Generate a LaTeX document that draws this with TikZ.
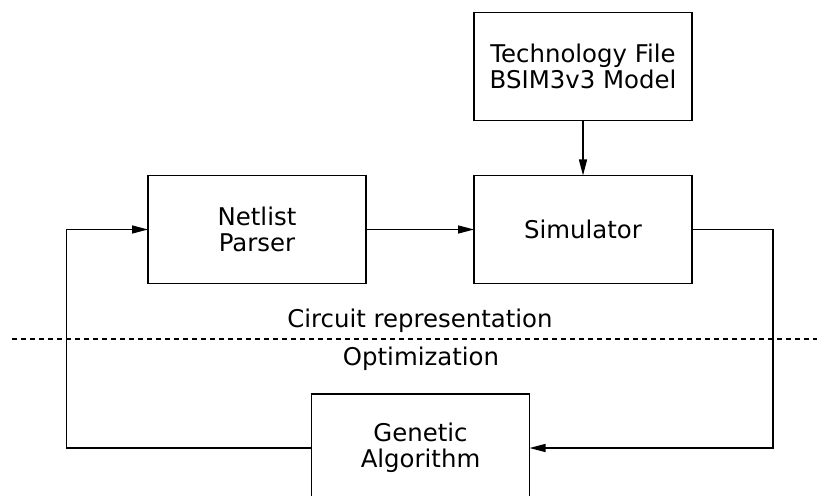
\documentclass[tikz,border=0pt]{standalone}
\usepackage{fontspec}
\setmainfont{DejaVu Sans}
\usetikzlibrary{arrows.meta, positioning}

\begin{document}
\begin{tikzpicture}[
			x=0.5pt, y=-0.5pt,
			font=\fontsize{12.2}{13}\selectfont,
			block/.style={draw, line width=0.7pt, align=center, minimum width=109pt, minimum height=54pt, inner sep=0pt, outer sep=0pt},
			arrow/.style={-{Triangle[length=8pt, width=4pt]}, line width=0.7pt},
			sepline/.style={line width=0.6pt, dash pattern=on 2.5pt off 2pt}
			]
			\useasboundingbox (0,0) rectangle (817,496);
			
			% --- circuit side ---
			\node[block] (parser) at (257,229.5) {Netlist\\Parser};
			\node[block, right=54pt of parser] (sim) {Simulator};
			\node[block, above=27.5pt of sim] (techfile) {Technology File\\BSIM3v3 Model};
			
			% --- optimization side ---
			\node[block] (ga) at (420.5,448) {Genetic\\Algorithm};
			
			% --- separator ---
			\draw[sepline] (12,339) -- (817,339);
			\node (circuit) at (420,321) {Circuit representation};
			\node (optim) at (421,359) {Optimization};
			
			% --- Arrows ---
			\draw[arrow] (techfile) -- (sim);
			\draw[arrow] (parser) -- (sim);
			\draw[arrow] (sim.east) -- ++(81,0) |- (ga.east);
			\draw[arrow] (ga.west) -- ++(-245,0) |- (parser.west);
			
	\end{tikzpicture}
\end{document}
